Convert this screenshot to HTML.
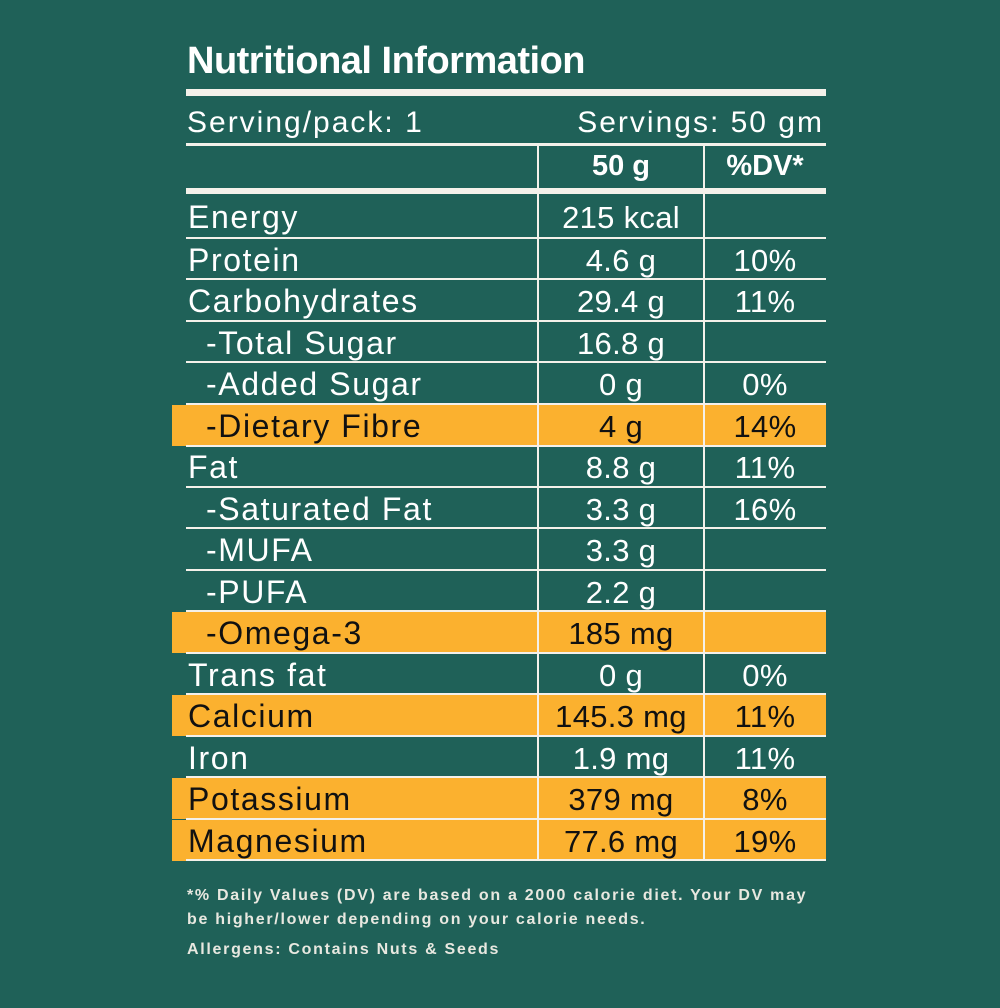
<!DOCTYPE html>
<html><head><style>
body{margin:0;width:1000px;height:1008px;background:#1f6158;position:relative;overflow:hidden;font-family:"Liberation Sans",sans-serif;color:#fff}
.a{position:absolute}
.t{position:absolute;font-size:38px;font-weight:bold;left:187px;top:40px;letter-spacing:-0.5px}
.hl{position:absolute;background:#f4f1ea}
.row{position:absolute;left:172px;width:654px;height:41px;font-size:31px;line-height:43px}
.row span{position:absolute;white-space:nowrap}
.o{background:#fbb12f;color:#111}
.c1{left:16px;font-size:32px;letter-spacing:1.6px}.c1.i{left:34px}
.c2{left:366px;width:166px;text-align:center;letter-spacing:0.3px}
.c3{left:532px;width:122px;text-align:center;letter-spacing:0.3px}
.f{position:absolute;left:187px;font-size:16px;font-weight:bold;color:#e8e8e0;letter-spacing:1.7px;white-space:nowrap}
.sv{position:absolute;top:106px;font-size:30px;letter-spacing:2px;white-space:nowrap}
</style></head><body>
<div class="t">Nutritional Information</div>
<div class="hl" style="left:186px;top:89px;width:640px;height:7px"></div>
<div class="sv" style="left:187px">Serving/pack: 1</div>
<div class="sv" style="right:176px">Servings: 50 gm</div>
<div class="hl" style="left:186px;top:143px;width:640px;height:3px"></div>
<div class="a" style="left:538px;top:150px;width:166px;text-align:center;font-size:29px;font-weight:bold">50 g</div>
<div class="a" style="left:704px;top:150px;width:122px;text-align:center;font-size:29px;font-weight:bold">%DV*</div>
<div class="hl" style="left:186px;top:188px;width:640px;height:6px"></div>

<div class="row" style="top:196px"><span class="c1">Energy</span><span class="c2">215 kcal</span></div>
<div class="row" style="top:239px"><span class="c1">Protein</span><span class="c2">4.6 g</span><span class="c3">10%</span></div>
<div class="row" style="top:280px"><span class="c1">Carbohydrates</span><span class="c2">29.4 g</span><span class="c3">11%</span></div>
<div class="row" style="top:322px"><span class="c1 i">-Total Sugar</span><span class="c2">16.8 g</span></div>
<div class="row" style="top:363px"><span class="c1 i">-Added Sugar</span><span class="c2">0 g</span><span class="c3">0%</span></div>
<div class="row o" style="top:405px"><span class="c1 i">-Dietary Fibre</span><span class="c2">4 g</span><span class="c3">14%</span></div>
<div class="row" style="top:446px"><span class="c1">Fat</span><span class="c2">8.8 g</span><span class="c3">11%</span></div>
<div class="row" style="top:488px"><span class="c1 i">-Saturated Fat</span><span class="c2">3.3 g</span><span class="c3">16%</span></div>
<div class="row" style="top:529px"><span class="c1 i">-MUFA</span><span class="c2">3.3 g</span></div>
<div class="row" style="top:571px"><span class="c1 i">-PUFA</span><span class="c2">2.2 g</span></div>
<div class="row o" style="top:612px"><span class="c1 i">-Omega-3</span><span class="c2">185 mg</span></div>
<div class="row" style="top:654px"><span class="c1">Trans fat</span><span class="c2">0 g</span><span class="c3">0%</span></div>
<div class="row o" style="top:695px"><span class="c1">Calcium</span><span class="c2">145.3 mg</span><span class="c3">11%</span></div>
<div class="row" style="top:737px"><span class="c1">Iron</span><span class="c2">1.9 mg</span><span class="c3">11%</span></div>
<div class="row o" style="top:778px"><span class="c1">Potassium</span><span class="c2">379 mg</span><span class="c3">8%</span></div>
<div class="row o" style="top:820px"><span class="c1">Magnesium</span><span class="c2">77.6 mg</span><span class="c3">19%</span></div>

<div class="hl" style="left:186px;top:237px;width:640px;height:2px"></div>
<div class="hl" style="left:186px;top:278px;width:640px;height:2px"></div>
<div class="hl" style="left:186px;top:320px;width:640px;height:2px"></div>
<div class="hl" style="left:186px;top:361px;width:640px;height:2px"></div>
<div class="hl" style="left:186px;top:403px;width:640px;height:2px"></div>
<div class="hl" style="left:186px;top:445px;width:640px;height:2px"></div>
<div class="hl" style="left:186px;top:486px;width:640px;height:2px"></div>
<div class="hl" style="left:186px;top:527px;width:640px;height:2px"></div>
<div class="hl" style="left:186px;top:569px;width:640px;height:2px"></div>
<div class="hl" style="left:186px;top:610px;width:640px;height:2px"></div>
<div class="hl" style="left:186px;top:652px;width:640px;height:2px"></div>
<div class="hl" style="left:186px;top:693px;width:640px;height:2px"></div>
<div class="hl" style="left:186px;top:735px;width:640px;height:2px"></div>
<div class="hl" style="left:186px;top:776px;width:640px;height:2px"></div>
<div class="hl" style="left:186px;top:818px;width:640px;height:2px"></div>
<div class="hl" style="left:186px;top:859px;width:640px;height:2px"></div>
<div class="hl" style="left:537px;top:146px;width:2px;height:714px"></div>
<div class="hl" style="left:703px;top:146px;width:2px;height:714px"></div>

<div class="f" style="top:887px">*% Daily Values (DV) are based on a 2000 calorie diet. Your DV may</div>
<div class="f" style="top:911px">be higher/lower depending on your calorie needs.</div>
<div class="f" style="top:941px">Allergens: Contains Nuts &amp; Seeds</div>
</body></html>
